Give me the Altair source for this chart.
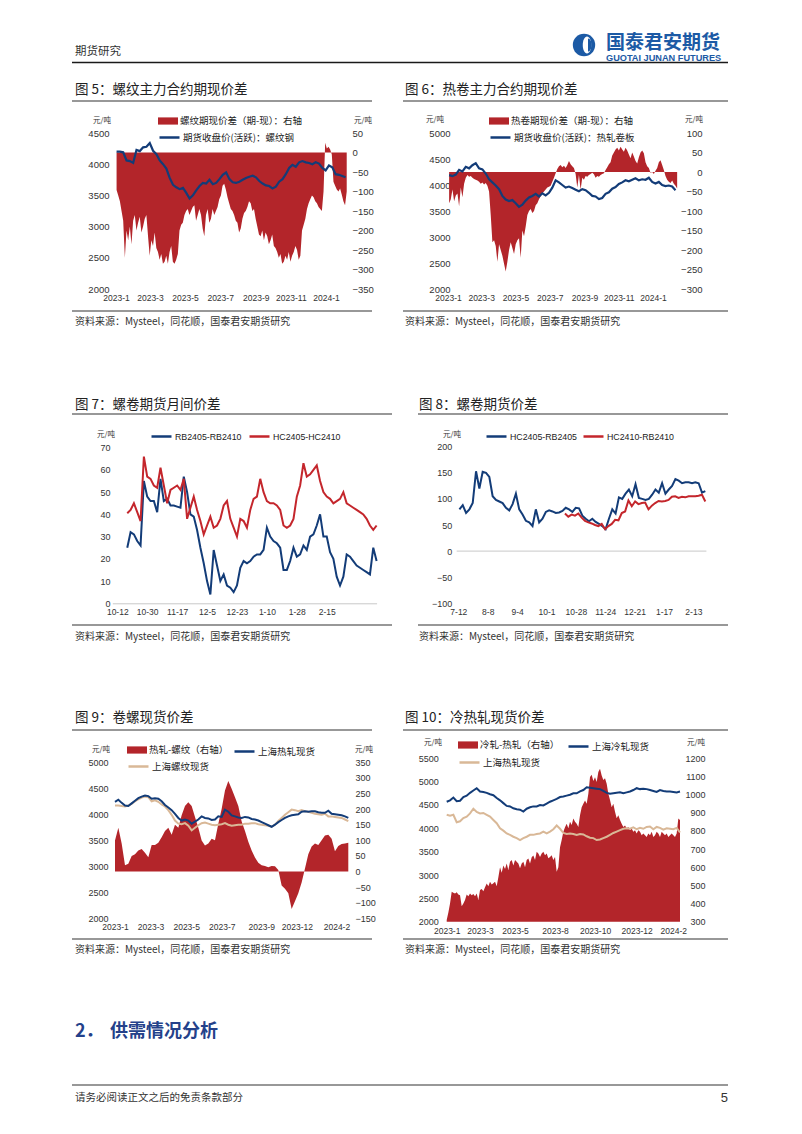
import altair as alt
import numpy as np
import pandas as pd

W, H, M = 786, 1118, 8
CJK = "Noto Sans CJK SC"
NUM = "Liberation Sans"
RED = "#B3252A"
RED_LINE = "#C4262C"
BLUE = "#133C78"
TAN = "#D9B897"
INK = "#222222"
AX = "#333333"
LOGO = "#1C5AA5"

# ---------------- Figure 5: rebar basis ----------------
F5_ORIGIN = "2023-01-01"
f5_tick_dates = ["2023-01-01", "2023-03-01", "2023-05-01", "2023-07-01", "2023-09-01", "2023-11-01", "2024-01-01"]
f5_tick_labels = ["2023-1", "2023-3", "2023-5", "2023-7", "2023-9", "2023-11", "2024-1"]
f5_basis_name = "螺纹期现价差（期-现）：右轴"
f5_close_name = "期货收盘价(活跃)：螺纹钢"
f5_basis_span = ("2023-01-02", "2024-02-06")
f5_close_span = ("2023-01-02", "2024-02-04")
f5_basis = [-96, -110, -125, -150, -175, -270, -200, -225, -190, -235, -175, -160, -200, -180, -165,
            -205, -190, -170, -160, -215, -265, -225, -240, -205, -245, -255, -275, -260, -285, -280,
            -265, -285, -255, -240, -280, -285, -275, -260, -200, -185, -180, -160, -150, -145, -160,
            -150, -140, -135, -175, -160, -145, -160, -195, -215, -160, -145, -180, -170, -145, -160,
            -150, -140, -120, -110, -85, -80, -95, -115, -130, -145, -150, -160, -175, -180, -205,
            -195, -170, -155, -150, -140, -125, -130, -150, -145, -170, -190, -210, -215, -200, -225,
            -205, -215, -235, -225, -210, -240, -245, -255, -270, -260, -285, -280, -265, -275, -255,
            -280, -265, -255, -240, -250, -275, -265, -200, -185, -170, -145, -130, -120, -110, -115,
            -125, -130, -140, -145, -150, -100, 25, 10, 15, 8, -5, -75, -85, -95, -100,
            -92, -108, -125, -135, -100]
f5_close = [4200, 4200, 4190, 4060, 4050, 4020, 4230, 4210, 4270, 4280, 4340, 4215, 4160, 4060, 4000,
            3930, 3780, 3670, 3630, 3600, 3620, 3540, 3450, 3500, 3580, 3650, 3700, 3690, 3750, 3680,
            3700, 3760, 3830, 3870, 3760, 3710, 3700, 3720, 3750, 3780, 3800, 3815, 3790, 3730, 3690,
            3660, 3650, 3610, 3640, 3720, 3760, 3840, 3940, 3990, 3960, 4030, 4050, 4030, 4020, 4000,
            4030, 4010, 3940, 3900, 3980, 3950, 3840, 3830, 3810, 3790]

# ---------------- Figure 6: HRC basis ----------------
f6_basis_name = "热卷期现价差（期-现）：右轴"
f6_close_name = "期货收盘价(活跃)：热轧卷板"
f6_basis_span = ("2023-01-03", "2024-02-13")
f6_close_span = ("2023-01-03", "2024-02-10")
f6_basis = [-80, -70, -45, -75, -60, -55, -88, -40, -65, -30, -15, -8, -12, -10, -15, -18, -20, -22,
            -25, -30, -27, -32, -28, -35, -50, -110, -180, -175, -190, -230, -185, -200, -215, -235,
            -255, -230, -200, -180, -195, -210, -185, -175, -170, -220, -150, -165, -140, -110, -100,
            -95, -105, -100, -85, -80, -70, -62, -55, -50, -45, -40, -38, -35, -25, -15, -3, 8, 15,
            18, 12, 16, 10, 18, 28, 20, 15, 10, -5, -40, -8, -45, -15, -20, -10, -12, -8, -5, -2, -6,
            -15, -10, -12, -8, -5, -3, 5, 12, 20, 25, 42, 50, 58, 62, 55, 65, 58, 52, 62, 55, 45, 35,
            50, 40, 28, 22, 38, 50, 55, 48, 25, 15, 10, -2, 0, -5, 3, 10, 25, 30, 18, 5, -10, -20,
            -25, -28, -22, -30, -35, -42]
f6_close = [4190, 4170, 4200, 4290, 4260, 4350, 4320, 4380, 4420, 4320, 4300, 4220, 4110, 4050, 3990,
            3920, 3790, 3720, 3690, 3710, 3650, 3580, 3620, 3700, 3760, 3790, 3830, 3780, 3840, 3800,
            3850, 3950, 4090, 4050, 4000, 3950, 3970, 3940, 3910, 3880, 3920, 3900, 3850, 3790, 3780,
            3730, 3750, 3830, 3860, 3930, 3960, 4020, 4050, 4090, 4070, 4100, 4130, 4090, 4110, 4100,
            4140, 4060, 4030, 4060, 4000, 3980, 3990, 3970, 3900]

# ---------------- Figure 7: calendar spreads ----------------
F7_ORIGIN = "2023-10-12"
f7_tick_dates = ["2023-10-12", "2023-10-30", "2023-11-17", "2023-12-05", "2023-12-23", "2024-01-10", "2024-01-28", "2024-02-15"]
f7_tick_labels = ["10-12", "10-30", "11-17", "12-5", "12-23", "1-10", "1-28", "2-15"]
f7_span = ("2023-10-18", "2024-03-16")
f7_rb_name = "RB2405-RB2410"
f7_hc_name = "HC2405-HC2410"
f7_rb = [25, 32, 31, 28, 26, 55, 48, 46, 46, 41, 56, 46, 47, 44, 44, 43.5, 43, 57, 50, 40, 39, 33, 25,
         18, 10, 4, 24, 17, 10, 13, 8, 7, 5, 8, 16, 19, 18, 19, 21, 22, 22, 24, 34, 30, 28, 27, 25, 15,
         15, 19, 25, 21, 22, 26, 24, 30, 31, 35, 40, 30, 30, 23, 20, 12, 8, 12, 22, 21, 19, 17, 16, 15,
         14, 13, 25, 19]
f7_hc = [40.5, 42, 45, 41, 37, 66, 57, 56, 53, 52, 61, 53, 45, 51, 52, 53, 51, 56, 38, 43, 48, 42, 37,
         31, 35, 39, 34, 35, 38, 44, 46, 38, 34, 30, 38, 37, 34, 42, 47, 48, 56, 50, 46, 45, 45, 44, 42,
         35, 34, 35, 38, 48, 53, 63, 57, 58, 60, 62, 55, 50, 48, 47, 45, 46, 47, 50, 45, 44, 43, 42, 41,
         40, 38, 35, 33, 35]

# ---------------- Figure 8: HC-RB spreads ----------------
F8_ORIGIN = "2023-07-12"
f8_tick_dates = ["2023-07-12", "2023-08-08", "2023-09-04", "2023-10-01", "2023-10-28", "2023-11-24", "2023-12-21", "2024-01-17", "2024-02-13"]
f8_tick_labels = ["7-12", "8-8", "9-4", "10-1", "10-28", "11-24", "12-21", "1-17", "2-13"]
f8_05_name = "HC2405-RB2405"
f8_10_name = "HC2410-RB2410"
f8_05_span = ("2023-07-13", "2024-02-24")
f8_10_span = ("2023-10-18", "2024-02-24")
f8_05 = [80, 88, 73, 80, 92, 153, 120, 152, 150, 142, 105, 98, 95, 92, 83, 78, 90, 110, 80, 70, 58, 55,
         48, 80, 55, 62, 75, 78, 76, 73, 74, 77, 83, 80, 75, 83, 82, 68, 62, 57, 62, 56, 52, 48, 42, 62,
         80, 72, 103, 100, 110, 118, 105, 128, 102, 100, 98, 100, 108, 118, 112, 130, 110, 118, 125, 138,
         135, 130, 132, 132, 130, 132, 130, 112, 115]
f8_10 = [72, 66, 70, 68, 72, 64, 58, 55, 53, 50, 48, 52, 42, 48, 52, 60, 59, 73, 76, 97, 86, 95, 90, 92,
         93, 80, 87, 92, 96, 95, 96, 98, 104, 105, 102, 104, 103, 105, 105, 105, 106, 108, 95]

# ---------------- Figure 9: HRC vs rebar spot ----------------
f9_week_span = (0, 59)
f9_tick_weeks = [0, 9, 18, 27, 37, 46, 56]
f9_tick_labels = ["2023-1", "2023-3", "2023-5", "2023-7", "2023-9", "2023-12", "2024-2"]
f9_diff_name = "热轧-螺纹（右轴）"
f9_hrc_name = "上海热轧现货"
f9_rebar_name = "上海螺纹现货"
f9_diff = [99, 140, 90, 20, 25, 50, 55, 67, 72, 60, 46, 85, 85, 92, 110, 130, 140, 118, 150, 140, 180, 210,
           222, 210, 175, 140, 99, 83, 90, 105, 100, 153, 200, 260, 290, 265, 238, 210, 160, 130, 95, 67,
           45, 28, 20, 18, 14, 18, 17, 5, -45, -55, -70, -120, -95, -70, -35, 10, 55, 80, 90, 85, 100, 115,
           118, 105, 65, 82, 88, 90, 92]
f9_hrc = [4240, 4280, 4220, 4170, 4160, 4210, 4260, 4310, 4340, 4360, 4350, 4300, 4310, 4300, 4250, 4180,
          4130, 4080, 4010, 3930, 3880, 3900, 3880, 3820, 3860, 3900, 3960, 3930, 3920, 3890, 3900, 3960,
          3950, 4090, 4050, 3980, 3960, 3940, 3930, 3950, 3940, 3910, 3900, 3880, 3850, 3820, 3790, 3760,
          3800, 3850, 3890, 3930, 3960, 3980, 3990, 4000, 4050, 4060, 4050, 4060, 4060, 4040, 4030, 4030,
          4070, 4010, 4000, 3990, 3980, 3960, 3930]
f9_rebar = [4170, 4170, 4160, 4150, 4170, 4200, 4250, 4290, 4320, 4340, 4330, 4250, 4270, 4240, 4190, 4150,
            4080, 3990, 3880, 3820, 3810, 3830, 3780, 3690, 3740, 3790, 3830, 3840, 3820, 3800, 3790, 3800,
            3810, 3830, 3800, 3780, 3790, 3800, 3800, 3820, 3820, 3830, 3830, 3810, 3800, 3790, 3780, 3760,
            3800, 3870, 3930, 3990, 4040, 4090, 4080, 4060, 4080, 4060, 4050, 4030, 4010, 4000, 3990, 4010,
            3960, 3960, 3950, 3940, 3930, 3900, 3870]

# ---------------- Figure 10: cold vs hot rolled spot ----------------
f10_day_span = (0, 280)
f10_tick_days = [0, 40, 82, 130, 178, 228, 272]
f10_tick_labels = ["2023-1", "2023-3", "2023-5", "2023-8", "2023-10", "2023-12", "2024-2"]
f10_diff_name = "冷轧-热轧（右轴）"
f10_crc_name = "上海冷轧现货"
f10_hrc_name = "上海热轧现货"
f10_diff = [310, 350, 400, 465, 460, 455, 462, 450, 445, 385, 400, 420, 450, 440, 455, 445, 452, 440, 456,
            420, 474, 480, 468, 490, 510, 495, 520, 505, 512, 520, 495, 545, 600, 570, 610, 590, 620, 585,
            630, 640, 610, 640, 630, 620, 595, 620, 630, 600, 640, 648, 620, 655, 665, 640, 685, 675, 657,
            675, 685, 666, 675, 650, 657, 666, 640, 657, 575, 600, 710, 750, 795, 820, 840, 815, 850, 832,
            868, 850, 840, 822, 886, 930, 950, 968, 950, 1005, 1097, 1110, 1075, 1095, 1070, 1125, 1143,
            1105, 1080, 1090, 1060, 1005, 970, 930, 950, 905, 870, 886, 860, 840, 822, 830, 815, 822, 804,
            813, 795, 804, 786, 804, 795, 776, 786, 776, 767, 786, 776, 795, 767, 776, 795, 786, 767, 795,
            786, 776, 786, 767, 776, 786, 776, 767, 786, 868, 860]
f10_crc = [4570, 4600, 4660, 4580, 4590, 4670, 4700, 4760, 4810, 4860, 4790, 4780, 4760, 4730, 4710, 4650,
           4600, 4540, 4480, 4470, 4430, 4410, 4400, 4360, 4420, 4450, 4470, 4470, 4500, 4490, 4530, 4570,
           4600, 4630, 4670, 4680, 4700, 4720, 4750, 4750, 4790, 4820, 4880, 4870, 4860, 4850, 4840, 4800,
           4760, 4740, 4750, 4760, 4770, 4750, 4770, 4790, 4820, 4860, 4840, 4850, 4840, 4820, 4800, 4780,
           4820, 4800, 4790, 4790, 4780, 4770, 4790]
f10_hrc = [4290, 4270, 4290, 4130, 4150, 4220, 4250, 4320, 4420, 4350, 4320, 4330, 4290, 4250, 4180, 4110,
           4000, 3950, 3890, 3860, 3820, 3790, 3750, 3790, 3820, 3860, 3860, 3880, 3890, 3930, 3890, 3930,
           3980, 4060, 3990, 3900, 3880, 3890, 3880, 3860, 3880, 3870, 3830, 3800, 3790, 3750, 3760, 3790,
           3820, 3860, 3900, 3930, 3960, 3990, 4000, 3990, 4020, 3980, 4010, 3990, 4030, 4040, 3980, 4030,
           4010, 3970, 4000, 3990, 3980, 4010, 3910]

SOURCE = "资料来源：Mysteel，同花顺，国泰君安期货研究"

# ======================= helpers =======================
ONE = pd.DataFrame({"k": [0]})


def days(d, origin):
    return (pd.Timestamp(d) - pd.Timestamp(origin)).days


def series(vals, x0, x1, name):
    return pd.DataFrame({"x": np.linspace(x0, x1, len(vals)), "v": vals, "s": name})


def sx(dom, p0, p1):
    return alt.Scale(domain=dom, range=[p0 - M, p1 - M], nice=False, zero=False)


def sy(dom, p_bottom, p_top):
    return alt.Scale(domain=dom, range=[p_bottom - M, p_top - M], nice=False, zero=False)


def lab_expr(pos, labels):
    arr = "[" + ",".join("'%s'" % l for l in labels) + "]"
    ps = "[" + ",".join(str(p) for p in pos) + "]"
    return "%s[indexof(%s, datum.value)]" % (arr, ps)


def xaxis(at_py, pos, labels, pad=4.5, size=8.5, domain=False):
    return alt.Axis(orient="bottom", offset=(at_py - M) - H, values=list(pos),
                    labelExpr=lab_expr(pos, labels), grid=False, domain=domain,
                    domainColor="#C8C8C8", domainWidth=1, ticks=False, tickSize=0,
                    labelPadding=pad, labelFont=NUM, labelFontSize=size, labelColor=AX,
                    title=None, labelOverlap=False, labelFlush=False, labelAngle=0)


def yaxis(orient, at_px, values, pad, size=9.5, align=None):
    off = -(at_px - M) if orient == "left" else (at_px - M) - W
    kw = dict(orient=orient, offset=off, values=values, format="d", grid=False, domain=False,
              ticks=False, tickSize=0, labelPadding=pad, labelFont=NUM, labelFontSize=size,
              labelColor=AX, title=None, labelOverlap=False)
    if align:
        kw["labelAlign"] = align
    return alt.Axis(**kw)


def leg(x_px, y_px, kind, size=9.5, font=CJK):
    kw = dict(orient="none", legendX=x_px - M, legendY=y_px - M - 10, title=None, padding=0,
              labelFont=font, labelFontSize=size, labelColor=INK, labelOffset=2,
              symbolSize=400, labelLimit=500)
    if kind == "rect":
        kw.update(symbolType="M-1,-0.36L1,-0.36L1,0.36L-1,0.36Z", symbolStrokeWidth=0,
                  symbolOpacity=1)
    else:
        kw.update(symbolType="stroke", symbolStrokeWidth=2.5)
    return alt.Legend(**kw)


def cscale(name, color):
    return alt.Scale(domain=[name], range=[color])


def area(df, xs, ys, base, color, legend, xax=None, yax=None):
    return alt.Chart(df).mark_area(opacity=1, interpolate="linear").encode(
        x=alt.X("x:Q", scale=xs, axis=xax),
        y=alt.Y("v:Q", scale=ys, axis=yax),
        y2=alt.Y2Datum(base),
        color=alt.Color("s:N", scale=cscale(df["s"].iloc[0], color), legend=legend),
    )


def line(df, xs, ys, color, legend, width=2.2, xax=None, yax=None):
    return alt.Chart(df).mark_line(strokeWidth=width, interpolate="linear").encode(
        x=alt.X("x:Q", scale=xs, axis=xax),
        y=alt.Y("v:Q", scale=ys, axis=yax),
        color=alt.Color("s:N", scale=cscale(df["s"].iloc[0], color), legend=legend),
    )


def T(s, x, y, size, color=INK, font=CJK, align="left", weight="normal"):
    return alt.Chart(ONE).mark_text(text=s, font=font, fontSize=size, color=color, align=align,
                                    baseline="middle", fontWeight=weight).encode(
        x=alt.value(x - M), y=alt.value(y - M))


def R(x1, x2, y, color="#333333", w=1.0):
    return alt.Chart(ONE).mark_rule(color=color, strokeWidth=w).encode(
        x=alt.value(x1 - M), x2=alt.value(x2 - M), y=alt.value(y - M))


def P(x, y, shape, size, color):
    return alt.Chart(ONE).mark_point(shape=shape, size=size, filled=True, color=color,
                                     opacity=1, strokeWidth=0).encode(
        x=alt.value(x - M), y=alt.value(y - M))


layers = []

# ---------------- page header / footer ----------------
layers += [
    T("期货研究", 75, 52, 11.5, "#333333"),
    P(584, 45, "circle", 500, LOGO),
    P(587, 45, "M0,-1A0.5,1 0 1,1 0,1A0.5,1 0 1,1 0,-1Z", 290, "#FFFFFF"),
    P(588, 45, "M0,-1A0.55,1 0 0,1 0,1Z", 170, LOGO),
    T("国泰君安期货", 606, 43, 19, LOGO, weight="bold"),
    T("GUOTAI JUNAN FUTURES", 606, 58.3, 9.2, LOGO, font=NUM, weight="bold"),
    R(72, 728, 62.5, "#1A1A1A", 1.5),
    T("2．", 75, 1032, 18, "#24418A", weight="bold"),
    T("供需情况分析", 110, 1032, 18, "#24418A", weight="bold"),
    R(72, 728, 1085, "#333333", 1.2),
    T("请务必阅读正文之后的免责条款部分", 75, 1098, 10.5, "#333333"),
    T("5", 728, 1098, 13, "#333333", font=NUM, align="right"),
]

# ---------------- titles, rules, sources ----------------
for (title, tx, ty, lx0, lx1, ly, sx0, sly, sty) in [
    ("图 5：螺纹主力合约期现价差", 75, 90, 72, 372, 101, 75, 311, 322),
    ("图 6：热卷主力合约期现价差", 405, 90, 403, 728, 101, 405, 311, 322),
    ("图 7：螺卷期货月间价差", 75, 405, 72, 392, 414, 75, 625, 637),
    ("图 8：螺卷期货价差", 419, 405, 418, 728, 414, 419, 625, 637),
    ("图 9：卷螺现货价差", 75, 718, 72, 372, 730, 75, 939, 950),
    ("图 10：冷热轧现货价差", 405, 718, 403, 728, 730, 405, 939, 950),
]:
    layers += [
        T(title, tx, ty, 13.5),
        R(lx0, lx1, ly, "#333333", 1.2),
        R(lx0, lx1, sly, "#333333", 1.2),
        T(SOURCE, sx0, sty, 10, "#333333"),
    ]

# units
for (ux, uy) in [(102, 121), (363, 121), (435, 120), (694, 120), (106, 435), (452, 435),
                 (101, 750), (364, 750), (433, 743), (696, 743)]:
    layers.append(T("元/吨", ux, uy, 7.5, "#333333", align="center"))

# ---------------- Figure 5 ----------------
x5 = sx([0, 365], 116, 326)
yl5 = sy([2000, 4500], 289, 133)
yr5 = sy([-350, 50], 289, 133)
d5a = series(f5_basis, days(f5_basis_span[0], F5_ORIGIN), days(f5_basis_span[1], F5_ORIGIN), f5_basis_name)
d5b = series(f5_close, days(f5_close_span[0], F5_ORIGIN), days(f5_close_span[1], F5_ORIGIN), f5_close_name)
f5_ticks = [days(d, F5_ORIGIN) for d in f5_tick_dates]
layers += [
    area(d5a, x5, yr5, 0, RED, leg(158, 121, "rect"),
         xax=xaxis(289, f5_ticks, f5_tick_labels),
         yax=yaxis("right", 346, list(range(-350, 51, 50)), 6)),
    line(d5b, x5, yl5, BLUE, leg(158, 136, "line"),
         yax=yaxis("left", 116, list(range(2000, 4501, 500)), 7)),
]

# ---------------- Figure 6 ----------------
x6 = sx([0, 365], 448, 653)
yl6 = sy([2000, 5000], 289, 133)
yr6 = sy([-300, 100], 289, 133)
d6a = series(f6_basis, days(f6_basis_span[0], F5_ORIGIN), days(f6_basis_span[1], F5_ORIGIN), f6_basis_name)
d6b = series(f6_close, days(f6_close_span[0], F5_ORIGIN), days(f6_close_span[1], F5_ORIGIN), f6_close_name)
layers += [
    area(d6a, x6, yr6, 0, RED, leg(489, 121, "rect"),
         xax=xaxis(289, f5_ticks, f5_tick_labels),
         yax=yaxis("right", 702, list(range(-300, 101, 50)), 0, align="right")),
    line(d6b, x6, yl6, BLUE, leg(489, 136, "line"),
         yax=yaxis("left", 454, list(range(2000, 5001, 500)), 4)),
]

# ---------------- Figure 7 ----------------
x7 = sx([-3, 156], 112.3, 376.6)
y7 = sy([0, 70], 603.3, 447.7)
f7_ticks = [days(d, F7_ORIGIN) for d in f7_tick_dates]
d7a = series(f7_rb, days(f7_span[0], F7_ORIGIN), days(f7_span[1], F7_ORIGIN), f7_rb_name)
d7b = series(f7_hc, days(f7_span[0], F7_ORIGIN), days(f7_span[1], F7_ORIGIN), f7_hc_name)
layers += [
    line(d7a, x7, y7, BLUE, leg(150, 435, "line", 8.8, NUM), width=2.0,
         xax=xaxis(603.3, f7_ticks, f7_tick_labels, domain=True),
         yax=yaxis("left", 113, list(range(0, 71, 10)), 3, size=9)),
    line(d7b, x7, y7, RED_LINE, leg(248, 435, "line", 8.8, NUM), width=2.0),
]

# ---------------- Figure 8 ----------------
x8 = sx([-1.5, 228], 456.7, 706.4)
y8 = sy([-100, 200], 603.3, 446.7)
f8_ticks = [days(d, F8_ORIGIN) for d in f8_tick_dates]
d8a = series(f8_05, days(f8_05_span[0], F8_ORIGIN), days(f8_05_span[1], F8_ORIGIN), f8_05_name)
d8b = series(f8_10, days(f8_10_span[0], F8_ORIGIN), days(f8_10_span[1], F8_ORIGIN), f8_10_name)
zero8 = pd.DataFrame({"a": [-1.5], "b": [228.0], "z": [0.0]})
layers += [
    alt.Chart(zero8).mark_rule(color="#C8C8C8", strokeWidth=1).encode(
        x=alt.X("a:Q", scale=x8, axis=xaxis(603.3, f8_ticks, f8_tick_labels)),
        x2="b:Q",
        y=alt.Y("z:Q", scale=y8, axis=yaxis("left", 455, list(range(-100, 201, 50)), 3.3, size=9))),
    line(d8a, x8, y8, BLUE, leg(485, 435, "line", 8.8, NUM), width=2.0),
    line(d8b, x8, y8, RED_LINE, leg(582, 435, "line", 8.8, NUM), width=2.0),
]

# ---------------- Figure 9 ----------------
x9 = sx([0, 59], 115, 348.3)
yl9 = sy([2000, 5000], 918.3, 762.3)
yr9 = sy([-150, 350], 918.3, 762.3)
d9a = series(f9_diff, f9_week_span[0], f9_week_span[1], f9_diff_name)
d9b = series(f9_hrc, f9_week_span[0], f9_week_span[1], f9_hrc_name)
d9c = series(f9_rebar, f9_week_span[0], f9_week_span[1], f9_rebar_name)
layers += [
    area(d9a, x9, yr9, 0, RED, leg(127, 750, "rect"),
         xax=xaxis(918.3, f9_tick_weeks, f9_tick_labels),
         yax=yaxis("right", 348.3, list(range(-150, 351, 50)), 6.7, size=9)),
    line(d9c, x9, yl9, TAN, leg(127, 765, "line"), width=2.0),
    line(d9b, x9, yl9, BLUE, leg(233, 750, "line"), width=2.0,
         yax=yaxis("left", 115, list(range(2000, 5001, 500)), 7, size=9)),
]

# ---------------- Figure 10 ----------------
x10 = sx([0, 280], 446.7, 680)
yl10 = sy([2000, 5500], 921.7, 758.3)
yr10 = sy([300, 1200], 921.7, 758.3)
d10a = series(f10_diff, f10_day_span[0], f10_day_span[1], f10_diff_name)
d10b = series(f10_crc, f10_day_span[0], f10_day_span[1], f10_crc_name)
d10c = series(f10_hrc, f10_day_span[0], f10_day_span[1], f10_hrc_name)
layers += [
    area(d10a, x10, yr10, 300, RED, leg(458, 745, "rect"),
         xax=xaxis(921.7, f10_tick_days, f10_tick_labels),
         yax=yaxis("right", 705, list(range(300, 1201, 100)), 0, size=9, align="right")),
    line(d10c, x10, yl10, TAN, leg(458, 761, "line"), width=2.0),
    line(d10b, x10, yl10, BLUE, leg(567, 745, "line"), width=2.0,
         yax=yaxis("left", 446.7, list(range(2000, 5501, 500)), 8.4, size=9)),
]

chart = alt.layer(*layers).resolve_scale(
    x="independent", y="independent", color="independent"
).resolve_axis(
    x="independent", y="independent"
).resolve_legend(
    color="independent"
).properties(
    width=W, height=H, padding=0, background="white",
    autosize=alt.AutoSizeParams(type="none"),
).configure_view(stroke=None)

chart.save("out.html", embed_options={"renderer": "svg", "actions": False})
